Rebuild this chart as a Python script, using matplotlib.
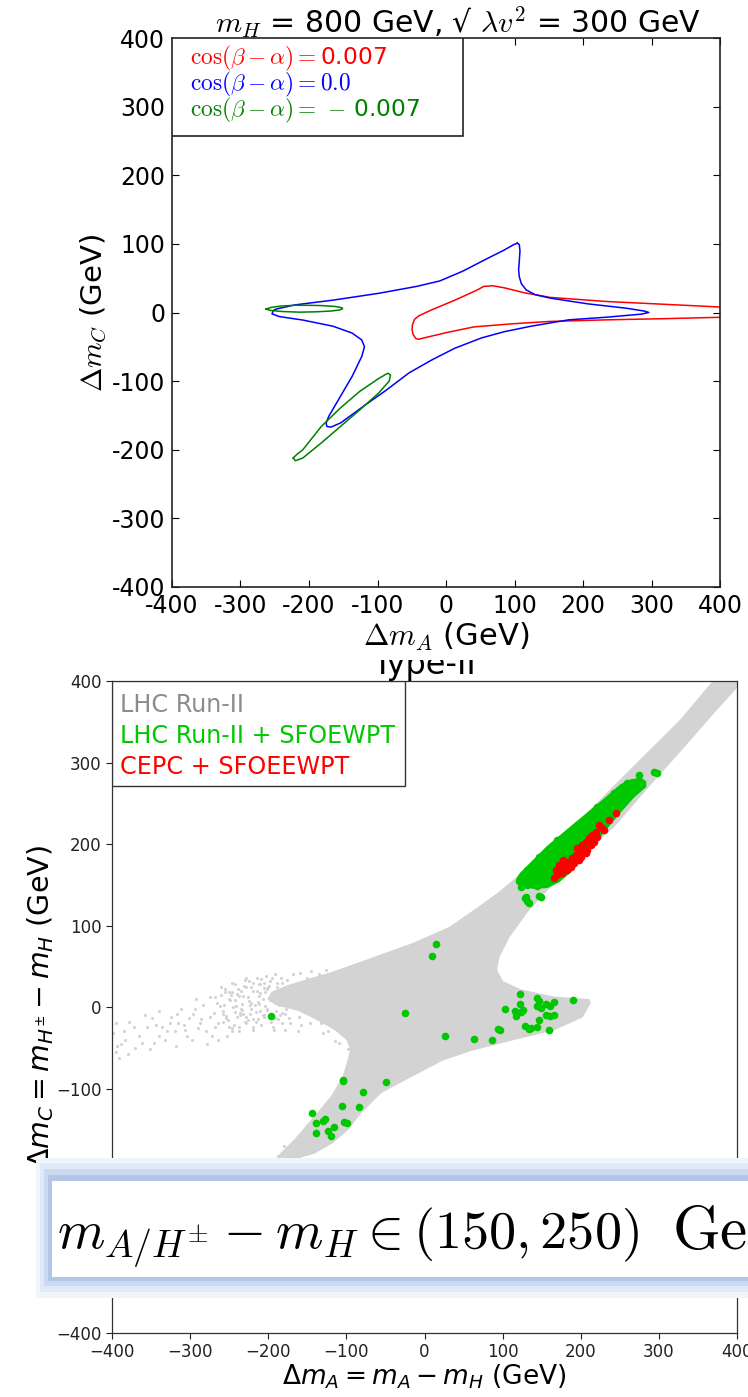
import matplotlib
matplotlib.use('Agg')
import matplotlib.pyplot as plt
from matplotlib.patches import Rectangle, Polygon

# ---------------- Top panel data (contours) ----------------
red_cx = [400, 318, 235, 152, 113, 85, 68, 55, 46, 13, -20.5, -40, -46, -49, -49.5, -48, -44, -40,
          -32, 2, 40.6, 96, 152, 235, 318, 400]
red_cy = [8, 12, 16, 22, 29, 36, 39, 38, 33, 18, 4, -5, -10, -18, -25, -32, -38, -39,
          -37, -29, -21, -16.5, -13, -10.7, -9, -7]

blue_cx = [104, 107, 108, 107, 106, 107, 110, 117, 130, 152, 207, 263, 290, 296, 285, 235, 179, 124,
           85, 52, 13, -20.5, -54, -87, -121, -154, -168, -174, -175, -171, -154, -137, -123, -119,
           -123, -137, -165, -209, -243, -254, -252, -248, -221, -165, -98, -43, -9, 24, 57, 85, 98,
           104]
blue_cy = [101, 99, 90, 75, 62, 52, 42, 33, 26, 21, 12.6, 6.3, 2, 0, -2.4, -6.8, -10.7, -20,
           -28, -37, -52, -69, -88, -113, -137, -161, -167, -166, -161, -151, -122, -93, -64, -50,
           -40, -30, -20, -11, -6, -2, 3, 5, 11, 18, 28, 38, 46, 60, 77, 91, 98.5,
           101]

green1_cx = [-263, -255, -240, -220, -200, -180, -162, -152, -151, -156, -170, -190, -215, -240, -256, -263]
green1_cy = [5, 7.5, 9.5, 10.5, 10.5, 10, 8.8, 7, 5.5, 3.5, 2, 1, 0.5, 1.5, 3, 5]

green2_cx = [-223, -220, -209, -182, -154, -126, -98, -83, -81, -85, -98, -126, -154, -182, -209, -218, -223]
green2_cy = [-212, -216, -212, -190, -166, -142, -117, -100, -91, -88.5, -96, -115, -139, -166, -200, -207, -212]

top_labels = [r"$\cos(\beta-\alpha)=$0.007", r"$\cos(\beta-\alpha)=0.0$",
              r"$\cos(\beta-\alpha)=\,-\,$0.007"]
top_colors = ['r', 'b', 'g']
top_ticks = [-400, -300, -200, -100, 0, 100, 200, 300, 400]
top_ticklabels = ['-400', '-300', '-200', '-100', '0', '100', '200', '300', '400']

# ---------------- Bottom panel data ----------------
gray_region_x = [370, 328, 286, 242, 200, 158, 120, 95, 72, 33, -14, -72, -119, -151, -178, -195, -200,
                 -190, -161, -136, -114, -99, -94, -104, -119, -141, -166, -188, -172, -141, -119, -99,
                 -82, -56, -19, 23, 60, 113, 165, 202, 212, 210, 165, 123, 100, 92, 95, 108, 133, 165,
                 195, 242, 286, 328, 370, 402, 402]
gray_region_y = [400, 352, 312, 270, 229, 193, 160, 140, 124, 98, 78, 58, 42, 33, 25, 18, 10,
                 3, -4, -16, -28, -40, -53, -86, -110, -135, -163, -184, -188, -179, -167, -151,
                 -130, -105, -86, -65, -53, -40, -28, -12, 5, 9, 12, 21, 31, 45, 61, 86, 119, 152,
                 182, 221, 270, 315, 361, 395, 400]

gray_x = [-399, -391, -394, -383, -378, -362, -349, -346, -336, -330, -317, -315, -304, -301, -294,
          -288, -280, -272, -270, -262, -256, -254, -246, -241, -236, -230, -225, -220, -212, -206,
          -204, -198, -193, -188, -183, -177, -172, -167, -162, -156, -151, -146, -140, -135, -130,
          -125, -119, -114, -109, -98, -96, -188, -180, -172, -167, -156, -151, -148, -143, -140,
          -205, -210, -215, -195, -185, -220, -228, -232, -238, -244, -250, -258, -265, -275, -283,
          -290, -296, -308, -320, -325, -340, -355, -370, -385, -395, -212, -222, -200, -235, -246,
          -250, -248, -245, -242, -240, -238, -235, -233, -230, -228, -226, -224, -222, -219, -217,
          -215, -213, -211, -209, -207, -205, -203, -201, -199, -197, -196, -194, -192, -190, -189,
          -187, -186, -184, -182, -181, -179, -178, -176, -175, -173, -171, -168, -166, -163, -161,
          -159, -158, -156, -153, -151, -147, -145, -141, -139, -135, -132, -130, -126, -124, -122,
          -117, -115, -340, -332, -326, -318, -312, -306, -298, -292, -286, -278, -274, -268, -264,
          -260, -258, -253, -380, -372, -365, -358, -352, -344, -395, -388,
          -258, -255, -252, -249, -246, -243, -240, -237, -234, -231, -228, -225, -222, -219, -216,
          -213, -210, -207, -204, -201, -198, -195, -192, -189, -186, -183, -180, -177, -174, -171,
          -268, -264, -261, -257, -254, -250, -247, -243, -239, -236, -232, -229, -226, -223, -219,
          -216, -212, -209, -206, -202]
gray_y = [-32, -63, -48, -40, -18, -44, -14, -44, -24, -30, -9, -20, -36, -14, -3,
          -20, -30, -36, -7, 1, 19, -11, -30, 1, -7, -18, 7, -24, 13, 23,
          1, 9, -28, 21, -7, 13, -20, 27, -30, 30, 9, -20, 34, 1, -32,
          38, -11, -42, -44, -52, -57, -183, -171, -188, -178, -167, -159, -173, -178, -151,
          30, -5, 20, 35, -10, -15, 25, -8, 14, -22, 10, -18, 5, -12, 2,
          -26, -8, -22, -30, -12, -35, -25, -50, -30, -55, 28, 5, 25, -2, 18,
          -25, 15, 0, 28, -12, -30, 20, -4, 33, -20, 12, -8, 25, -28, 3,
          35, -15, 17, -22, 10, -10, 38, -2, 26, -18, 14, -25, 40, -5, 30,
          -15, 10, 36, -20, 18, -8, -28, 33, 2, -14, 22, 40, 5, 14, -12,
          42, -22, 20, -4, 36, 14, 44, -6, 26, 40, -20, 20, 46, -30, 30,
          -22, 42, -5, -40, -20, -48, -2, -28, -40, 10, -15, -45, 12, -25, -40,
          15, -5, -35, -58, -25, -36, -10, -52, -22, -20, -45,
          -8, 22, -16, 8, 30, -6, 16, -24, 4, 26, -12, 32, -2, 20, -18,
          6, 28, -10, 18, -4, 32, 12, -14, 24, 2, 30, 16, -2, 26, 8,
          12, -20, 24, 2, -14, 18, -26, 8, 22, -10, 14, 36, -16, 2, 30,
          -6, 4, 34, -12, 22]

green_band_x = [118.7, 122.9, 135.8, 157.1, 182.7, 208.3, 233.9, 251, 263.8, 276.6, 283, 283,
                268, 251, 238.2, 221.1, 204, 187, 172, 157.1, 140, 127.2, 118.7]
green_band_y = [157.9, 164, 176.3, 196.7, 217.2, 237.6, 258.1, 272.4, 278.5, 280.6, 276.5, 270.3,
                258, 239.7, 225.3, 204.9, 184.5, 166, 153.8, 146.8, 145.6, 148.5, 153.8]

green_x = [120.5, 123, 139, 144, 128.5, 131, 133.7, 147, 15, 9.8, -195.9, -24.5, 25.6, 63.6, 86.3,
           94.2, 96.8, 103.1, 115.3, 116.9, 123.2, 125.8, 121.6, 121.6, 144.3, 147, 144.3, 149.6,
           154.9, 160.2, 165.4, 165.4, 160.2, 154.9, 147, 190.7, 128.5, 136.4, 144.3, 159.1, 133.7,
           -104.7, -104.7, -49.8, -79.3, -105.2, -83.6, -144.2, -139.5, -130, -127.3, -115.7, -103.6,
           -99.4, -139.5, -123.6, -119.4, 293.7, 298, 274.5, 122.9, 131.5, 144.3, 129.4, 148.6,
           131.5, 146.4, 169.9, 195.5, 221.1, 242.5, 259.5]
green_y = [154.6, 158.7, 150.5, 148, 134, 130, 128, 136, 77.9, 62.3, -10.7, -7, -36, -39, -40,
           -27, -28.7, -2.5, -5.3, -11.5, -6.6, -4.1, 16, 4.1, 11, 7, 0.8, -1.2,
           4.1, 0.8, 5.7, -9.4, -11.5, -9.4, -15.6, 8.2, -23, -25.8, -25, -27.9, -27,
           -89.4, -91.4, -92.3, -104, -121, -123, -130, -142.7, -139.4, -137.4, -147.6, -140.6,
           -142.7, -154, -151.7, -157.9, 288.7, 286.7, 284.6, 147.6, 149.7, 149.7, 135.4, 135.4,
           168.1, 184.5, 204.9, 223.3, 245.8, 262.2, 274.4]

red_x = [165.6, 169.9, 174.2, 178.4, 180.6, 184.8, 189.1, 193.4, 195.5, 199.8, 201.9, 206.2, 210.5,
         214.7, 219, 223.3, 227.5, 236.1, 244.6, 176.3, 182.7, 191.2, 199.8, 208.3, 216.9, 187,
         197.6, 206.2, 212.6, 221.1, 229.7, 167.8, 172.0, 177.6]
red_y = [157.9, 162, 168.1, 172.2, 178.3, 176.3, 182.4, 186.5, 194.7, 192.6, 198.8, 202.9, 207,
         211, 215.1, 223.3, 219.2, 229.4, 237.6, 164, 168.1, 176.3, 184.5, 192.6, 202.9, 172.2,
         180.4, 188.5, 198.8, 209, 217.2, 168.1, 174.2, 180.4]

bottom_labels = ['LHC Run-II', 'LHC Run-II + SFOEWPT', 'CEPC + SFOEEWPT']
bottom_label_colors = ['#8c8c8c', '#00c800', '#ff0000']
bottom_ticks = [-400, -300, -200, -100, 0, 100, 200, 300, 400]
bottom_ticklabels = ['\u2212400', '\u2212300', '\u2212200', '\u2212100', '0', '100', '200', '300', '400']

W, H = 748, 1397


def fx(px):
    return px / W


def fy(py):
    return 1 - py / H


fig = plt.figure(figsize=(W / 100, H / 100), dpi=100)

# ---------------- Bottom panel ----------------
B_L, B_R, B_T, B_B = 112, 737, 681, 1333
ax2 = fig.add_axes([fx(B_L), fy(B_B), fx(B_R) - fx(B_L), fy(B_T) - fy(B_B)], zorder=0)
ax2.add_patch(Polygon(list(zip(gray_region_x, gray_region_y)), closed=True,
                      facecolor='lightgray', edgecolor='lightgray', lw=1, zorder=1))
ax2.scatter(gray_x, gray_y, s=5, color='lightgray', lw=0, zorder=1)
ax2.add_patch(Polygon(list(zip(green_band_x, green_band_y)), closed=True,
                      facecolor='#00c800', edgecolor='#00c800', lw=1, zorder=2))
ax2.scatter(green_x, green_y, s=30, color='#00c800', lw=0, zorder=2)
ax2.scatter(red_x, red_y, s=30, color='#ff0000', lw=0, zorder=3)
ax2.set_xlim(-400, 400)
ax2.set_ylim(-400, 400)
ax2.set_xticks(bottom_ticks)
ax2.set_xticklabels(bottom_ticklabels)
ax2.set_yticks(bottom_ticks)
ax2.set_yticklabels(bottom_ticklabels)
ax2.tick_params(labelsize=12, direction='out', length=4, width=0.8, colors='#222222')
for sp in ax2.spines.values():
    sp.set_color('#333333')
    sp.set_linewidth(0.9)
ax2.set_xlabel(r"$\Delta m_A = m_A - m_H$ (GeV)", fontsize=19, labelpad=1)
ax2.set_ylabel(r"$\Delta m_C = m_{H^{\pm}} - m_H$ (GeV)", fontsize=20.5, labelpad=0)
ax2.set_title('Type-II', fontsize=23, pad=4)

# legend box of the lower panel
bw, bh = B_R - B_L, B_B - B_T
ax2.add_patch(Rectangle((0, 1 - (786 - B_T) / bh), (405 - B_L) / bw, (786 - B_T) / bh,
                        transform=ax2.transAxes, facecolor='white', edgecolor='#333333',
                        lw=1.0, zorder=5))
for i, (lab, col) in enumerate(zip(bottom_labels, bottom_label_colors)):
    ax2.text((120 - B_L) / bw, 1 - (705 + 31 * i - B_T) / bh, lab, color=col, fontsize=17.2,
             transform=ax2.transAxes, va='center', ha='left', zorder=6)

# white cover over the top part (pasted top figure)
fig.add_artist(Rectangle((0, fy(660)), 1, 1 - fy(660), transform=fig.transFigure,
                         facecolor='white', edgecolor='none', zorder=1))

# ---------------- Top panel ----------------
T_L, T_R, T_T, T_B = 172, 720, 38, 587
ax1 = fig.add_axes([fx(T_L), fy(T_B), fx(T_R) - fx(T_L), fy(T_T) - fy(T_B)], zorder=2)
ax1.plot(red_cx, red_cy, color='r', lw=1.1)
ax1.plot(blue_cx, blue_cy, color='b', lw=1.1)
ax1.plot(green1_cx, green1_cy, color='g', lw=1.1)
ax1.plot(green2_cx, green2_cy, color='g', lw=1.1)
ax1.set_xlim(-400, 400)
ax1.set_ylim(-400, 400)
ax1.set_xticks(top_ticks)
ax1.set_xticklabels(top_ticklabels)
ax1.set_yticks(top_ticks)
ax1.set_yticklabels(top_ticklabels)
ax1.tick_params(direction='in', top=True, right=True, labelsize=17, length=5, width=0.8, pad=5)
for sp in ax1.spines.values():
    sp.set_color('#222222')
    sp.set_linewidth(1.2)
ax1.set_title(r"$m_H$ = 800 GeV, √ $\lambda v^2$ = 300 GeV", fontsize=21.5,
              math_fontfamily='cm', pad=4, x=0.522)
ax1.set_xlabel(r"$\Delta m_A$ (GeV)", fontsize=22, math_fontfamily='cm', labelpad=2)
ax1.set_ylabel(r"$\Delta m_C$ (GeV)", fontsize=21, math_fontfamily='cm', labelpad=2)

tw, th = T_R - T_L, T_B - T_T
ax1.add_patch(Rectangle((0, 1 - (136 - T_T) / th), (463 - T_L) / tw, (136 - T_T) / th,
                        transform=ax1.transAxes, facecolor='white', edgecolor='#222222',
                        lw=1.2, zorder=5))
for i, (lab, col) in enumerate(zip(top_labels, top_colors)):
    ax1.text((190 - T_L) / tw, 1 - (58 + 26 * i - T_T) / th, lab, color=col, fontsize=16.8,
             math_fontfamily='cm', transform=ax1.transAxes, va='center', ha='left', zorder=6)

# ---------------- Overlay note box ----------------
box_layers = [((36, 1158, 1298), '#f0f4fb'), ((40, 1163, 1292), '#e0e9f6'),
              ((44, 1169, 1286), '#cbdaf0'), ((48, 1175, 1281), '#b2c7e8')]
for (x0, y0, y1), col in box_layers:
    fig.add_artist(Rectangle((fx(x0), fy(y1)), 1 - fx(x0), fy(y0) - fy(y1),
                             transform=fig.transFigure, facecolor=col, edgecolor='none', zorder=4))
fig.add_artist(Rectangle((fx(52), fy(1277)), 1 - fx(52), fy(1181) - fy(1277),
                         transform=fig.transFigure, facecolor='white', edgecolor='none', zorder=4))
fig.text(fx(57), fy(1249), r"$m_{A/H^{\pm}} - m_H \in (150, 250)$",
         fontsize=39, math_fontfamily='cm', ha='left', va='baseline', zorder=5)
fig.text(fx(672), fy(1249), r"$\mathrm{GeV}$",
         fontsize=44, math_fontfamily='cm', ha='left', va='baseline', zorder=5)

fig.savefig('out.png', dpi=100)
